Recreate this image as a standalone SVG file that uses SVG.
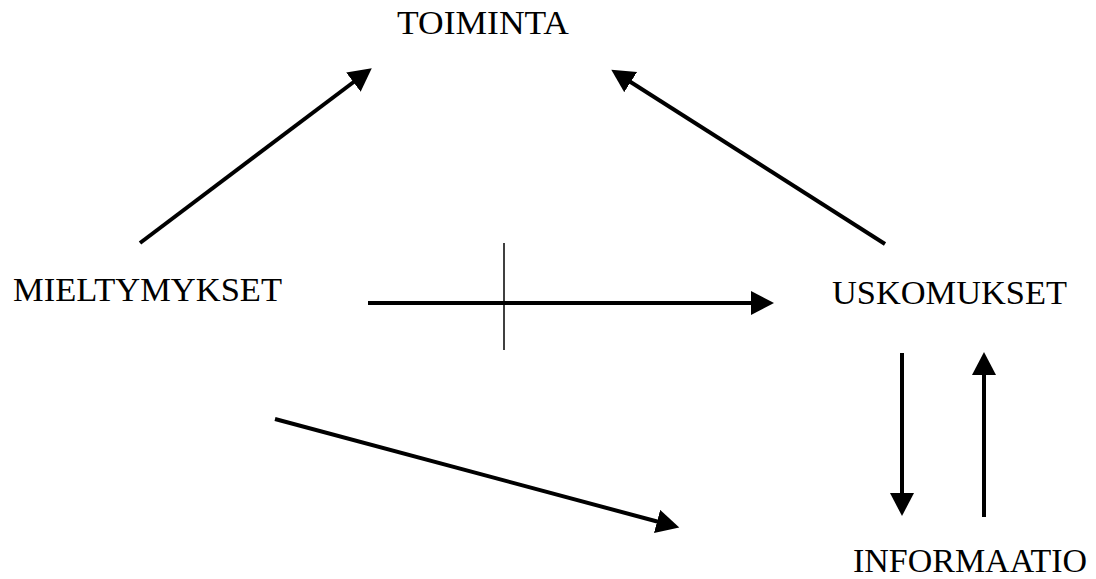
<svg xmlns="http://www.w3.org/2000/svg" width="1096" height="579" viewBox="0 0 1096 579">
<style>
.lbl{font-family:"Liberation Serif","Times New Roman",serif;font-size:34px;fill:#000}
.edge{stroke:#000;stroke-width:4;fill:none;marker-end:url(#ah)}
</style>
<defs>
<marker id="ah" markerUnits="userSpaceOnUse" markerWidth="26" markerHeight="26" refX="2" refY="12" orient="auto">
<path d="M0,0 L23,12 L0,24 z" fill="#000"/>
</marker>
</defs>
<rect width="1096" height="579" fill="#fff"/>
<g id="toiminta"><text class="lbl" x="397" y="34" textLength="172" lengthAdjust="spacingAndGlyphs">TOIMINTA</text></g>
<g id="mieltymykset"><text class="lbl" x="13" y="301" textLength="269" lengthAdjust="spacingAndGlyphs">MIELTYMYKSET</text></g>
<g id="uskomukset"><text class="lbl" x="832" y="304" textLength="235" lengthAdjust="spacingAndGlyphs">USKOMUKSET</text></g>
<g id="informaatio"><text class="lbl" x="853" y="572" textLength="234" lengthAdjust="spacingAndGlyphs">INFORMAATIO</text></g>
<g id="connectors">
<line class="edge" x1="140" y1="243" x2="355" y2="81"/>
<line class="edge" x1="885" y1="244" x2="629" y2="81"/>
<line class="edge" x1="275" y1="419" x2="659" y2="522"/>
<line class="edge" x1="368" y1="303" x2="753" y2="303"/>
<line x1="504" y1="243" x2="504" y2="350" stroke="#000" stroke-width="1.5"/>
<line class="edge" x1="902" y1="353" x2="902" y2="495"/>
<line class="edge" x1="984" y1="517" x2="984" y2="373"/>
</g>
</svg>
